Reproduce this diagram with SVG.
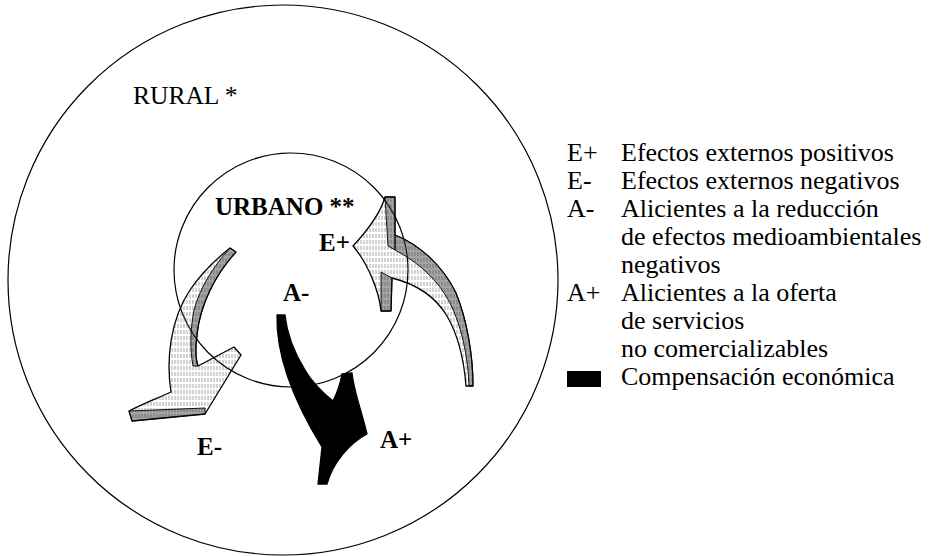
<svg xmlns="http://www.w3.org/2000/svg" width="929" height="556" viewBox="0 0 929 556">
<style>
.ring{fill:none;stroke:#000;stroke-width:1.2}
.arrow{stroke:#000;stroke-width:1.3;stroke-linejoin:round}
.band{stroke:#000;stroke-width:0.9;stroke-linejoin:round}
</style>
<defs>
<pattern id="hatch" width="3" height="6" patternUnits="userSpaceOnUse">
<line x1="1" y1="0" x2="1" y2="4" stroke="#666" stroke-width="0.6"/>
</pattern>
<pattern id="hatchDark" width="2" height="4" patternUnits="userSpaceOnUse">
<line x1="1" y1="0" x2="1" y2="4" stroke="#333" stroke-width="0.9"/>
</pattern>
</defs>
<g font-family="'Liberation Serif', 'Times New Roman', serif" fill="#000">
<g id="rural">
<circle class="ring" cx="283" cy="280" r="275"/>
<text x="133" y="104" font-size="25.5">RURAL *</text>
</g>
<g id="urbano">
<circle class="ring" cx="291" cy="270" r="117"/>
<text x="215" y="215" font-size="25" font-weight="bold">URBANO **</text>
</g>
<g id="connectors">
<g id="arrow-eplus">
<path class="arrow" fill="url(#hatch)" d="M385,197 L395,197 L395,235 C420,245 443,266 456,293 C467,320 473,355 473,386 L466,386 C464,360 458,335 447,316 C435,296 416,284 392,278 L391,311 L381,311 C379,290 367,262 353,246 C366,232 380,215 385,197 Z"/>
<path class="band" fill="url(#hatchDark)" d="M395,235 C420,245 443,266 456,293 C467,320 473,355 473,386 L469,386 C468,355 461,325 450,303 C438,280 418,262 395,250 Z"/>
<path class="band" fill="url(#hatchDark)" d="M385,197 L395,197 L395,250 L388,246 Z"/>
<path class="band" fill="url(#hatchDark)" d="M381,272 L392,278 L391,311 L381,311 Z"/>
</g>
<g id="arrow-eminus">
<path class="arrow" fill="url(#hatch)" d="M230,248 L236,252 C215,275 200,305 197,335 C195,350 196,360 198,366 L234,347 L241,355 L205,414 L132,421 L129,411 C145,403 158,398 171,392 C166,360 170,320 190,290 C200,275 215,260 230,248 Z"/>
<path class="band" fill="url(#hatchDark)" d="M230,248 L236,252 C215,275 200,305 197,335 C195,350 196,360 198,366 L193,366 C190,350 190,330 194,310 C200,288 212,268 230,248 Z"/>
<path class="band" fill="url(#hatchDark)" d="M129,411 L205,408 L205,414 L132,421 Z"/>
</g>
<g id="arrow-black">
<path class="arrow" fill="#000" d="M277,315 C276,350 290,395 322,447 L318,484 L327,484 C333,462 350,443 367,434 C362,412 354,392 352,373 L342,374 C340,385 336,395 333,401 C322,392 312,382 305,370 C294,352 287,335 285,315 Z"/>
</g>
</g>
<g id="labels" font-size="25" font-weight="bold">
<text x="319" y="251">E+</text>
<text x="283" y="301">A-</text>
<text x="197" y="455">E-</text>
<text x="380" y="448">A+</text>
</g>
<g id="legend" font-size="26">
<text x="567" y="161">E+</text>
<text x="621" y="161">Efectos externos positivos</text>
<text x="567" y="189">E-</text>
<text x="621" y="189">Efectos externos negativos</text>
<text x="567" y="217">A-</text>
<text x="621" y="217">Alicientes a la reducción</text>
<text x="621" y="245">de efectos medioambientales</text>
<text x="621" y="273">negativos</text>
<text x="567" y="301">A+</text>
<text x="621" y="301">Alicientes a la oferta</text>
<text x="621" y="329">de servicios</text>
<text x="621" y="357">no comercializables</text>
<rect x="567" y="371" width="34" height="16" fill="#000"/>
<text x="621" y="385">Compensación económica</text>
</g>
</g>
</svg>
